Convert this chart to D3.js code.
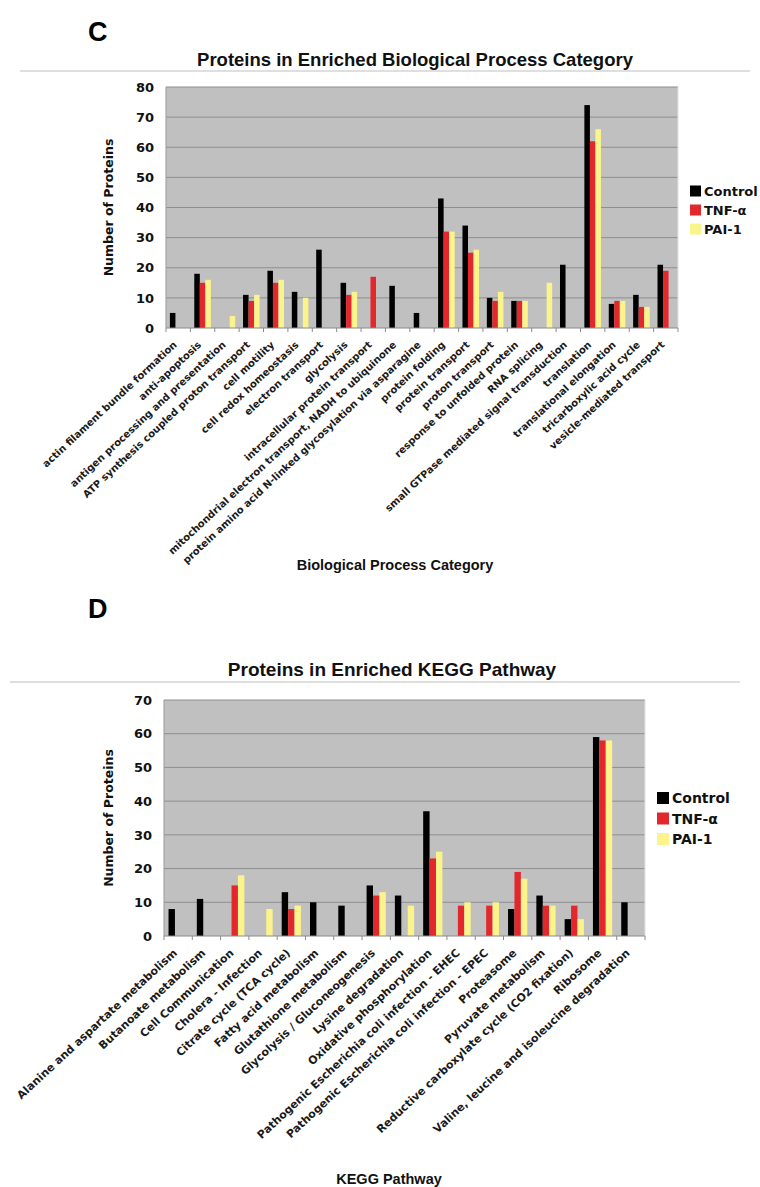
<!DOCTYPE html>
<html>
<head>
<meta charset="utf-8">
<script src="https://cdn.jsdelivr.net/npm/d3@7"></script>
<style>
  body { margin: 0; background: #fff; }
  svg { display: block; }
</style>
</head>
<body>
<script>
// series shared by both panels
const seriesNames = ["Control", "TNF-α", "PAI-1"];
const seriesColors = ["#000000", "#e2282c", "#fbf38c"];

// panel C: biological process categories
const bpCategories = [
  "actin filament bundle formation", "anti-apoptosis", "antigen processing and presentation",
  "ATP synthesis coupled proton transport", "cell motility", "cell redox homeostasis",
  "electron transport", "glycolysis", "intracellular protein transport",
  "mitochondrial electron transport, NADH to ubiquinone",
  "protein amino acid N-linked glycosylation via asparagine", "protein folding",
  "protein transport", "proton transport", "response to unfolded protein", "RNA splicing",
  "small GTPase mediated signal transduction", "translation", "translational elongation",
  "tricarboxylic acid cycle", "vesicle-mediated transport"
];
const bpControl = [5, 18, 0, 11, 19, 12, 26, 15, 0, 14, 5, 43, 34, 10, 9, 0, 21, 74, 8, 11, 21];
const bpTNF     = [0, 15, 0, 9, 15, 0, 0, 11, 17, 0, 0, 32, 25, 9, 9, 0, 0, 62, 9, 7, 19];
const bpPAI     = [0, 16, 4, 11, 16, 10, 0, 12, 0, 0, 0, 32, 26, 12, 9, 15, 0, 66, 9, 7, 0];
const bpTicks = [0, 10, 20, 30, 40, 50, 60, 70, 80];

// panel D: KEGG pathways
const keggCategories = [
  "Alanine and aspartate metabolism", "Butanoate metabolism", "Cell Communication",
  "Cholera - Infection", "Citrate cycle (TCA cycle)", "Fatty acid metabolism",
  "Glutathione metabolism", "Glycolysis / Gluconeogenesis", "Lysine degradation",
  "Oxidative phosphorylation", "Pathogenic Escherichia coli infection - EHEC",
  "Pathogenic Escherichia coli infection - EPEC", "Proteasome", "Pyruvate metabolism",
  "Reductive carboxylate cycle (CO2 fixation)", "Ribosome",
  "Valine, leucine and isoleucine degradation"
];
const keggControl = [8, 11, 0, 0, 13, 10, 9, 15, 12, 37, 0, 0, 8, 12, 5, 59, 10];
const keggTNF     = [0, 0, 15, 0, 8, 0, 0, 12, 0, 23, 9, 9, 19, 9, 9, 58, 0];
const keggPAI     = [0, 0, 18, 8, 9, 0, 0, 13, 9, 25, 10, 10, 17, 9, 5, 58, 0];
const keggTicks = [0, 10, 20, 30, 40, 50, 60, 70];

const svg = d3.select("body").append("svg")
  .attr("width", 760)
  .attr("height", 1187);

function drawPanel(p) {
  const g = svg.append("g");
  const tickFont = "'DejaVu Sans', Verdana, sans-serif";
  const headFont = "'Liberation Sans', Arial, sans-serif";

  // panel letter, title and rule
  g.append("text")
    .attr("x", 88).attr("y", p.letterY)
    .style("font-family", headFont).style("font-weight", "bold").style("font-size", "27px")
    .text(p.letter);

  g.append("text")
    .attr("x", p.titleX).attr("y", p.titleY)
    .attr("text-anchor", "middle")
    .style("font-family", headFont).style("font-weight", "bold").style("font-size", p.titleSize + "px")
    .style("fill", "#111")
    .text(p.title);

  g.append("line")
    .attr("x1", p.ruleX0).attr("x2", p.ruleX1)
    .attr("y1", p.ruleY).attr("y2", p.ruleY)
    .style("stroke", "#d4d4d4").style("stroke-width", 1.5);

  const x = d3.scaleBand()
    .domain(p.categories)
    .range([p.left, p.right])
    .paddingInner(0.32)
    .paddingOuter(0.16);

  const xs = d3.scaleBand()
    .domain(seriesNames)
    .range([0, x.bandwidth()]);

  const y = d3.scaleLinear()
    .domain([0, d3.max(p.ticks)])
    .range([p.bottom, p.top]);

  // plot background
  g.append("rect")
    .attr("x", p.left).attr("y", p.top)
    .attr("width", p.right - p.left).attr("height", p.bottom - p.top)
    .style("fill", "#c0c0c0");

  g.append("g")
    .selectAll("line")
    .data(p.ticks.slice(1))
    .join("line")
    .attr("x1", p.left).attr("x2", p.right)
    .attr("y1", d => y(d)).attr("y2", d => y(d))
    .style("stroke", "#8e8e8e").style("stroke-width", 1);

  g.append("line")
    .attr("x1", p.left).attr("x2", p.left)
    .attr("y1", p.top).attr("y2", p.bottom)
    .style("stroke", "#9a9a9a");
  g.append("line")
    .attr("x1", p.right).attr("x2", p.right)
    .attr("y1", p.top).attr("y2", p.bottom)
    .style("stroke", "#e2e2e2");

  // bars
  const rows = p.categories.map((c, i) => ({
    cat: c,
    vals: seriesNames.map((s, j) => ({ s, j, v: p.values[j][i] }))
  }));

  g.append("g")
    .selectAll("g")
    .data(rows)
    .join("g")
    .attr("transform", d => `translate(${x(d.cat)},0)`)
    .selectAll("rect")
    .data(d => d.vals.filter(v => v.v > 0))
    .join("rect")
    .attr("x", d => xs(d.s))
    .attr("width", xs.bandwidth())
    .attr("y", d => y(d.v))
    .attr("height", d => y(0) - y(d.v))
    .style("fill", d => seriesColors[d.j]);

  // x axis line and category ticks
  g.append("line")
    .attr("x1", p.left).attr("x2", p.right)
    .attr("y1", p.bottom).attr("y2", p.bottom)
    .style("stroke", "#8a8a8a");

  g.append("g")
    .selectAll("line")
    .data(p.categories.concat([null]))
    .join("line")
    .attr("x1", (d, i) => p.left + i * x.step())
    .attr("x2", (d, i) => p.left + i * x.step())
    .attr("y1", p.bottom).attr("y2", p.bottom + 4)
    .style("stroke", "#8a8a8a");

  // y axis
  const yAxis = g.append("g")
    .attr("transform", `translate(${p.left},0)`)
    .call(d3.axisLeft(y).tickValues(p.ticks).tickSize(0).tickPadding(12));
  yAxis.select(".domain").remove();
  yAxis.selectAll("text")
    .style("font-family", tickFont).style("font-weight", "bold").style("font-size", "13px")
    .style("fill", "#111");

  // rotated category labels
  g.append("g")
    .selectAll("text")
    .data(p.categories)
    .join("text")
    .attr("transform", d => `translate(${x(d) + x.bandwidth() / 2 - 3},${p.bottom + 15}) rotate(-43)`)
    .attr("text-anchor", "end")
    .attr("dy", "0.35em")
    .style("font-family", tickFont).style("font-weight", "bold").style("font-size", p.labelSize + "px")
    .style("fill", "#1a1a1a")
    .text(d => d);

  // axis titles
  g.append("text")
    .attr("transform", `translate(113,${(p.top + p.bottom) / 2}) rotate(-90)`)
    .attr("text-anchor", "middle")
    .style("font-family", tickFont).style("font-weight", "bold").style("font-size", "12.5px")
    .style("fill", "#111")
    .text("Number of Proteins");

  g.append("text")
    .attr("x", p.xTitleX).attr("y", p.xTitleY)
    .attr("text-anchor", "middle")
    .style("font-family", headFont).style("font-weight", "bold").style("font-size", "14.5px")
    .style("fill", "#111")
    .text(p.xTitle);

  // legend
  const lg = g.append("g")
    .selectAll("g")
    .data(seriesNames)
    .join("g")
    .attr("transform", (d, i) => `translate(${p.legendX},${p.legendY + i * p.legendStep})`);
  lg.append("rect")
    .attr("x", 0).attr("y", -p.legendBox / 2)
    .attr("width", p.legendBox).attr("height", p.legendBox)
    .style("fill", (d, i) => seriesColors[i]);
  lg.append("text")
    .attr("x", p.legendBox + 3).attr("dy", "0.36em")
    .style("font-family", tickFont).style("font-weight", "bold").style("font-size", p.legendSize + "px")
    .style("fill", "#111")
    .text(d => d);
}

drawPanel({
  letter: "C", letterY: 41,
  title: "Proteins in Enriched Biological Process Category",
  titleX: 415, titleY: 66, titleSize: 18.5,
  ruleX0: 20, ruleX1: 750, ruleY: 71,
  left: 166, right: 678, top: 87, bottom: 328,
  categories: bpCategories,
  values: [bpControl, bpTNF, bpPAI],
  ticks: bpTicks,
  labelSize: 10,
  xTitle: "Biological Process Category", xTitleX: 395, xTitleY: 570,
  legendX: 690, legendY: 191, legendStep: 19, legendBox: 11, legendSize: 13
});

drawPanel({
  letter: "D", letterY: 618,
  title: "Proteins in Enriched KEGG Pathway",
  titleX: 392, titleY: 676, titleSize: 19,
  ruleX0: 10, ruleX1: 740, ruleY: 682,
  left: 164, right: 645, top: 700, bottom: 936,
  categories: keggCategories,
  values: [keggControl, keggTNF, keggPAI],
  ticks: keggTicks,
  labelSize: 11,
  xTitle: "KEGG Pathway", xTitleX: 389, xTitleY: 1184,
  legendX: 657, legendY: 798, legendStep: 20.5, legendBox: 12, legendSize: 14
});
</script>
</body>
</html>
